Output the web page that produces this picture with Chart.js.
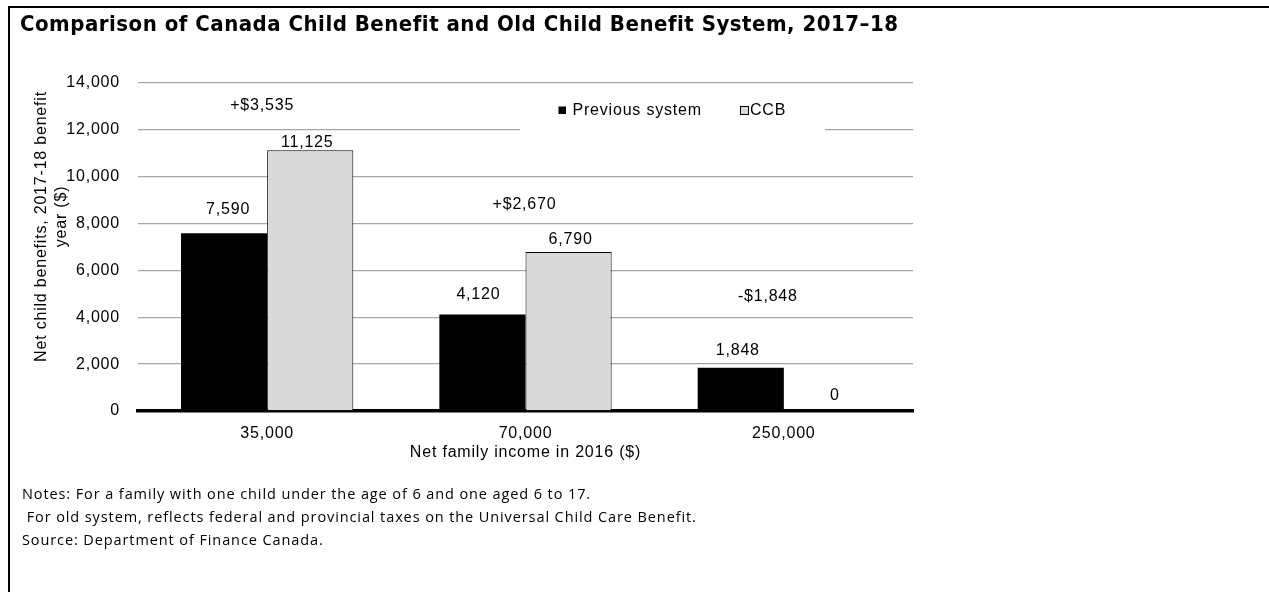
<!DOCTYPE html>
<html>
<head>
<meta charset="utf-8">
<script src="https://cdn.jsdelivr.net/npm/chart.js@4.4.1/dist/chart.umd.min.js"></script>
<style>
  html, body { margin: 0; padding: 0; background: #fff; }
  #wrap { position: relative; width: 1269px; height: 592px; overflow: hidden; }
  #chart { position: absolute; left: 0; top: 0; }
  .bt { position: absolute; left: 8px; top: 6px; width: 1261px; height: 2px; background: #000; }
  .bl { position: absolute; left: 8px; top: 6px; width: 2px; height: 586px; background: #000; }
  #title { position: absolute; left: 20px; top: 11px; font-family: "DejaVu Sans Condensed", "DejaVu Sans", sans-serif; font-weight: bold; font-size: 22px; letter-spacing: 0.5px; color: #000; white-space: nowrap; line-height: 26px; }
  #notes { position: absolute; left: 22px; top: 482px; font-family: "Open Sans", sans-serif; font-size: 14.5px; letter-spacing: 0.9px; color: #000; line-height: 23px; white-space: pre; }
</style>
</head>
<body>
<div id="wrap">
  <canvas id="chart" width="1269" height="592"></canvas>
  <div class="bt"></div>
  <div class="bl"></div>
  <div id="title">Comparison of Canada Child Benefit and Old Child Benefit System, 2017–18</div>
  <div id="notes">Notes: For a family with one child under the age of 6 and one aged 6 to 17.
 For old system, reflects federal and provincial taxes on the Universal Child Care Benefit.
Source: Department of Finance Canada.</div>
</div>
<script>
// ---- data ----
const categories = ["35,000", "70,000", "250,000"];
const seriesNames = ["Previous system", "CCB"];
const previousSystem = [7590, 4120, 1848];
const ccb = [11125, 6790, 0];
const yTicks = [0, 2000, 4000, 6000, 8000, 10000, 12000, 14000];
const yAxisTitleLines = ["Net child benefits, 2017-18 benefit", "year ($)"];
const xAxisTitle = "Net family income in 2016 ($)";
// where the change labels (CCB minus previous) sit, in data units
const changeLabelValues = [13050, 8800, 4900];

const FONT = '"Liberation Sans", Arial, sans-serif';
const fmt = v => v.toLocaleString('en-US');

const spacingPlugin = {
  id: 'spacing',
  beforeDraw(chart) { chart.ctx.letterSpacing = '0.8px'; }
};

const labelPlugin = {
  id: 'labels',
  afterDraw(chart, args, opts) {
    const ctx = chart.ctx;
    const y = chart.scales.y;
    const x = chart.scales.x;
    ctx.save();
    ctx.letterSpacing = '0.8px';
    // legend box (white background covering gridline)
    ctx.fillStyle = '#fff';
    ctx.fillRect(520, 92, 305, 42);
    ctx.font = '16px ' + FONT;
    ctx.textBaseline = 'middle';
    ctx.textAlign = 'left';
    ctx.fillStyle = '#000';
    ctx.fillRect(558.5, 106.5, 7.5, 7.5);
    ctx.fillText(seriesNames[0], 572.5, 110.5);
    ctx.fillStyle = '#d9d9d9';
    ctx.fillRect(741, 107, 7, 7);
    ctx.strokeStyle = '#000';
    ctx.lineWidth = 1;
    ctx.strokeRect(740.5, 106.5, 8, 8);
    ctx.fillStyle = '#000';
    ctx.fillText(seriesNames[1], 750, 110.5);

    // value labels
    ctx.textAlign = 'center';
    const offs = opts.offsets;
    chart.data.datasets.forEach((ds, di) => {
      const meta = chart.getDatasetMeta(di);
      meta.data.forEach((bar, i) => {
        const o = offs[di][i];
        ctx.fillText(fmt(ds.data[i]), bar.x + o[0], bar.y - o[1]);
      });
    });

    // change labels
    const dx = opts.changeDx;
    categories.forEach((c, i) => {
      const diff = ccb[i] - previousSystem[i];
      const txt = (diff >= 0 ? '+$' : '-$') + fmt(Math.abs(diff));
      ctx.fillText(txt, x.getPixelForValue(i) + dx[i], y.getPixelForValue(changeLabelValues[i]));
    });

    // y axis title (rotated, two lines)
    const lines = [[41.5, 226.5], [61.5, 216.5]];
    yAxisTitleLines.forEach((t, k) => {
      ctx.save();
      ctx.translate(lines[k][0], lines[k][1]);
      ctx.rotate(-Math.PI / 2);
      ctx.fillText(t, 0, 0);
      ctx.restore();
    });
    ctx.restore();
  }
};

new Chart(document.getElementById('chart'), {
  type: 'bar',
  data: {
    labels: categories,
    datasets: [
      { label: seriesNames[0], data: previousSystem, backgroundColor: '#000000', borderColor: '#000000', borderWidth: 0,
        categoryPercentage: 0.667, barPercentage: 1.0 },
      { label: seriesNames[1], data: ccb, backgroundColor: '#d9d9d9', borderColor: '#000000', borderWidth: 1,
        categoryPercentage: 0.667, barPercentage: 1.0 }
    ]
  },
  options: {
    responsive: false,
    animation: false,
    devicePixelRatio: 1,
    layout: { padding: { top: 83, left: 0, right: 356, bottom: 121 } },
    plugins: {
      legend: { display: false },
      tooltip: { enabled: false },
      labels: {
        offsets: [[[4, 24], [-4, 20], [-3, 17]], [[-3, 8], [2, 12], [8, 15]]],
        changeDx: [-5, -1, -16]
      }
    },
    scales: {
      x: {
        grid: { display: false, drawTicks: false },
        border: { display: true, color: '#000', width: 3.5 },
        ticks: { color: '#000', font: { family: FONT, size: 16 }, padding: 13 },
        title: { display: true, text: xAxisTitle, color: '#000', font: { family: FONT, size: 16 }, padding: { top: 0, bottom: 9 } },
        afterFit(s) { s.height = 60; }
      },
      y: {
        min: 0, max: 14000,
        afterBuildTicks(s) { s.ticks = yTicks.map(v => ({ value: v })); },
        grid: { color: '#a6a6a6', lineWidth: 1.3, drawTicks: false },
        border: { display: false },
        ticks: { color: '#000', font: { family: FONT, size: 16 }, padding: 18, callback: v => fmt(v) },
        afterFit(s) { s.width = 138; }
      }
    }
  },
  plugins: [spacingPlugin, labelPlugin]
});
</script>
</body>
</html>
